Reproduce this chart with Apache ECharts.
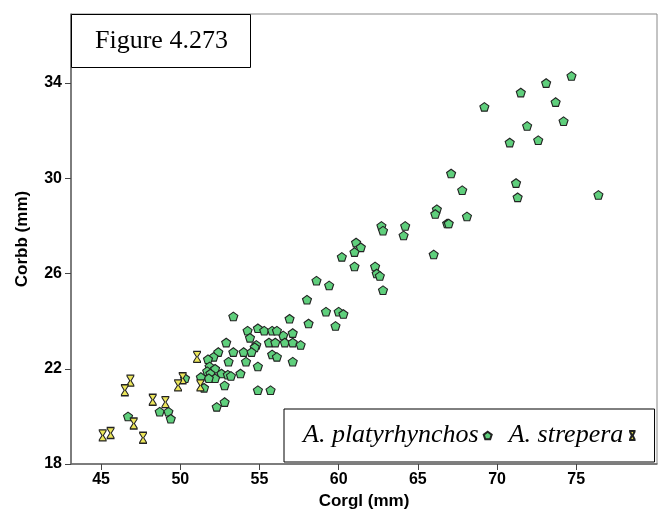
<!DOCTYPE html>
<html>
<head>
<meta charset="utf-8">
<script src="https://cdn.jsdelivr.net/npm/echarts@6/dist/echarts.min.js"></script>
<style>html,body{margin:0;padding:0;background:#fff}#c{width:662px;height:526px}</style>
</head>
<body>
<div id="c"></div>
<script>
// Data: [Corgl (mm), Corbb (mm)]
const platyrhynchos = [
  [74.7,34.3],[73.1,34.0],[71.5,33.6],[73.7,33.2],[74.2,32.4],[71.9,32.2],[70.8,31.5],[72.6,31.6],
  [71.2,29.8],[71.3,29.2],[76.4,29.3],[69.2,33.0],[67.1,30.2],[67.8,29.5],[66.2,28.7],[66.1,28.5],
  [66.85,28.1],[66.95,28.1],[68.1,28.4],[66.0,26.8],[64.2,28.0],[64.1,27.6],[62.7,28.0],[62.8,27.8],
  [61.1,27.3],[61.4,27.1],[61.0,26.9],[60.2,26.7],[61.0,26.3],[62.3,26.3],[62.4,26.0],[62.6,25.9],
  [62.8,25.3],[58.6,25.7],[59.4,25.5],[58.0,24.9],[59.2,24.4],[60.0,24.4],[60.3,24.3],[59.8,23.8],
  [56.9,24.1],[58.1,23.9],[57.1,23.5],[56.5,23.4],[56.6,23.1],[57.1,23.1],[57.6,23.0],[53.35,24.2],
  [54.25,23.6],[54.9,23.7],[55.3,23.6],[55.8,23.6],[56.1,23.6],[54.4,23.3],[55.6,23.1],[56.0,23.1],
  [54.8,23.0],[54.7,22.9],[53.35,22.7],[54.0,22.7],[54.5,22.7],[55.8,22.6],[56.1,22.5],[57.1,22.3],
  [54.15,22.3],[54.9,22.1],[52.9,23.1],[52.4,22.7],[52.1,22.5],[51.75,22.4],[53.05,22.3],[51.85,22.1],
  [51.7,21.9],[52.2,22.0],[51.9,21.8],[52.6,21.8],[53.0,21.75],[53.2,21.7],[52.2,21.6],[51.8,21.6],
  [51.3,21.65],[52.8,21.3],[53.8,21.8],[51.5,21.2],[54.9,21.1],[55.7,21.1],[52.8,20.6],[52.3,20.4],
  [46.7,20.0],[48.7,20.2],[49.25,20.2],[49.4,19.9],[50.3,21.6]
];
const strepera = [
  [51.06,22.5],[50.15,21.6],[49.86,21.3],[51.27,21.3],[46.85,21.5],[46.5,21.1],
  [48.26,20.7],[49.06,20.6],[47.06,19.7],[45.1,19.2],[45.6,19.3],[47.65,19.1]
];
const xTicks = [45,50,55,60,65,70,75];
const yTicks = [18,22,26,30,34];
const seriesNames = ['A. platyrhynchos','A. strepera'];
const titleText = 'Figure 4.273';
const xName = 'Corgl (mm)';
const yName = 'Corbb (mm)';

const pentagon = 'path://M0,-1L0.951,-0.309L0.588,0.809L-0.588,0.809L-0.951,-0.309Z';
const hourglass = 'path://M0,0H10V1.6L5.9,10L10,18.4V20H0V18.4L4.1,10L0,1.6Z';

const chart = echarts.init(document.getElementById('c'), null, {renderer:'canvas'});
const axisLabelStyle = {color:'#000', fontFamily:'Liberation Sans, Arial', fontWeight:'bold', fontSize:16};
const nameStyle = {color:'#000', fontFamily:'Liberation Sans, Arial', fontWeight:'bold', fontSize:17};
chart.setOption({
  animation:false,
  backgroundColor:'#fff',
  title:{
    text:titleText, left:71, top:14,
    padding:[14,23,13,24],
    backgroundColor:'#fff', borderColor:'#000', borderWidth:1,
    textStyle:{fontFamily:'Liberation Serif, Times New Roman', fontWeight:'normal', fontSize:26, color:'#000', lineHeight:27}
  },
  legend:{
    left:284, top:409,
    padding:[13,19,13,19],
    itemGap:16,
    align:'right',
    backgroundColor:'#fff', borderColor:'#000', borderWidth:1,
    itemWidth:8, itemHeight:9,
    textStyle:{fontFamily:'Liberation Serif, Times New Roman', fontStyle:'italic', fontSize:26, color:'#000', lineHeight:27},
    data:[
      {name:seriesNames[0], icon:pentagon},
      {name:seriesNames[1], icon:hourglass}
    ]
  },
  grid:{left:71, top:14, right:5, bottom:62, show:true, borderColor:'#888', borderWidth:1},
  xAxis:{
    type:'value', min:43.1, max:80.1,
    name:xName, nameLocation:'middle', nameGap:29,
    nameTextStyle:nameStyle,
    axisLine:{show:true, onZero:false, lineStyle:{color:'#666', width:1.5}},
    axisTick:{show:true, length:6, inside:false, customValues:xTicks, lineStyle:{color:'#444'}},
    axisLabel:{...axisLabelStyle, customValues:xTicks, margin:8},
    splitLine:{show:false}
  },
  yAxis:{
    type:'value', min:18, max:36.9,
    name:yName, nameLocation:'middle', nameGap:40, nameRotate:90,
    nameTextStyle:nameStyle,
    axisLine:{show:true, onZero:false, lineStyle:{color:'#666', width:1.5}},
    axisTick:{show:true, length:6, inside:false, customValues:yTicks, lineStyle:{color:'#444'}},
    axisLabel:{...axisLabelStyle, customValues:yTicks, margin:9},
    splitLine:{show:false}
  },
  series:[
    {
      name:seriesNames[0], type:'scatter', data:platyrhynchos,
      symbol:pentagon, symbolSize:[9,8.6],
      itemStyle:{color:'#5fcf7c', borderColor:'#222', borderWidth:1.1, opacity:1}
    },
    {
      name:seriesNames[1], type:'scatter', data:strepera,
      symbol:hourglass, symbolSize:[7,11],
      itemStyle:{color:'#ece65a', borderColor:'#222', borderWidth:1.1, opacity:1}
    }
  ]
});
</script>
</body>
</html>
